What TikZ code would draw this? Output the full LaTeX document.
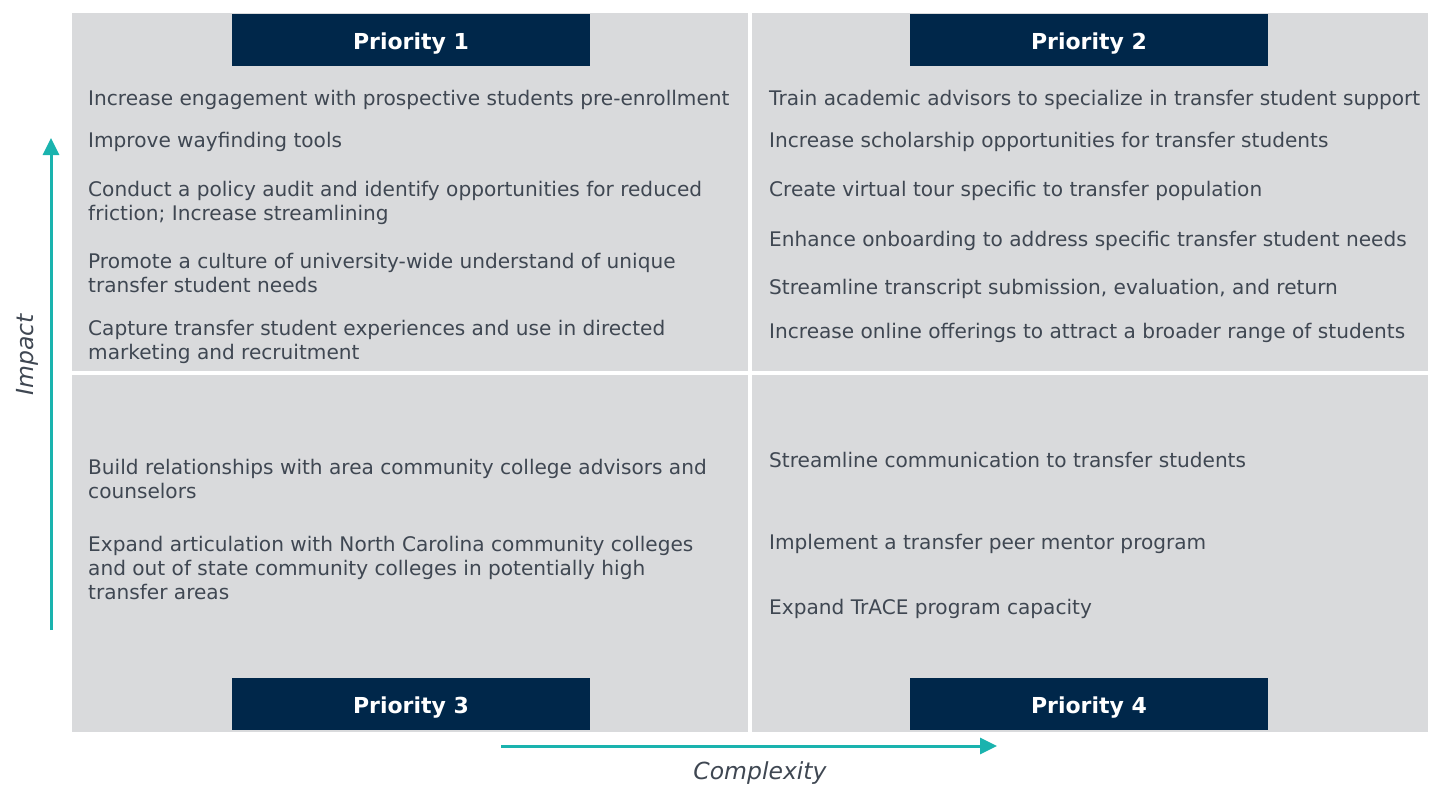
\documentclass[tikz,border=0pt]{standalone}
\usepackage{fontspec}
\setmainfont{DejaVu Sans}
\usetikzlibrary{arrows.meta, positioning}
\definecolor{panelGray}{HTML}{D9DADC}
\definecolor{navyDark}{HTML}{00274A}
\definecolor{tealAxis}{HTML}{1AB3AE}
\definecolor{textGray}{HTML}{3F4752}

\begin{document}
\begin{tikzpicture}[x=1pt, y=-1pt,
    panel/.style={fill=panelGray, draw=none},
    header/.style={rectangle, fill=navyDark, text=white, minimum width=358pt,
                   minimum height=52pt, inner sep=0pt, text height=19pt,
                   text depth=1pt, font=\fontsize{22}{26}\selectfont\bfseries},
    item/.style={anchor=west, inner sep=0pt, align=left, text=textGray,
                 font=\fontsize{20.1}{24.3}\selectfont},
    axis/.style={-{Triangle[length=17pt, width=16pt]}, line width=3pt, tealAxis},
    axislabel/.style={text=textGray, font=\fontsize{23.5}{28}\selectfont\itshape},
  ]
    \useasboundingbox (0,0) rectangle (1438,785);

    % ─── Quadrants ───
    \fill[panel] (72,13) rectangle (748,371);
    \fill[panel] (752,13) rectangle (1428,371);
    \fill[panel] (72,375) rectangle (748,732);
    \fill[panel] (752,375) rectangle (1428,732);

    % ─── Headers ───
    \node[header] (prio1) at (411,40) {Priority 1};
    \node[header] (prio2) at (1089,40) {Priority 2};
    \node[header] (prio3) at (411,704) {Priority 3};
    \node[header] (prio4) at (1089,704) {Priority 4};

    % ─── Priority 1 ───
    \node[item] (p1a) at (88,100) {Increase engagement with prospective students pre-enrollment};
    \node[item] (p1b) at (88,142) {Improve wayfinding tools};
    \node[item] (p1c) at (88,203) {Conduct a policy audit and identify opportunities for reduced\\friction; Increase streamlining};
    \node[item] (p1d) at (88,273) {Promote a culture of university-wide understand of unique\\transfer student needs};
    \node[item] (p1e) at (88,342) {Capture transfer student experiences and use in directed\\marketing and recruitment};

    % ─── Priority 2 ───
    \node[item] (p2a) at (769,100) {Train academic advisors to specialize in transfer student support};
    \node[item] (p2b) at (769,142) {Increase scholarship opportunities for transfer students};
    \node[item] (p2c) at (769,191) {Create virtual tour specific to transfer population};
    \node[item] (p2d) at (769,241) {Enhance onboarding to address specific transfer student needs};
    \node[item] (p2e) at (769,289) {Streamline transcript submission, evaluation, and return};
    \node[item] (p2f) at (769,333) {Increase online offerings to attract a broader range of students};

    % ─── Priority 3 ───
    \node[item] (p3a) at (88,479) {Build relationships with area community college advisors and\\counselors};
    \node[item] (p3b) at (88,568) {Expand articulation with North Carolina community colleges\\and out of state community colleges in potentially high\\transfer areas};

    % ─── Priority 4 ───
    \node[item] (p4a) at (769,460) {Streamline communication to transfer students};
    \node[item] (p4b) at (769,544) {Implement a transfer peer mentor program};
    \node[item] (p4c) at (769,609) {Expand TrACE program capacity};

    % ─── Axes ───
    \coordinate (impactLow) at (51,630);
    \coordinate (impactHigh) at (51,138);
    \coordinate (complexLow) at (501,746);
    \coordinate (complexHigh) at (997,746);
    \draw[axis] (impactLow) -- (impactHigh);
    \draw[axis] (complexLow) -- (complexHigh);
    \node[axislabel, rotate=90] (impact) at (27,355) {Impact};
    \node[axislabel] (complexity) at (760,773) {Complexity};
  \end{tikzpicture}
\end{document}
